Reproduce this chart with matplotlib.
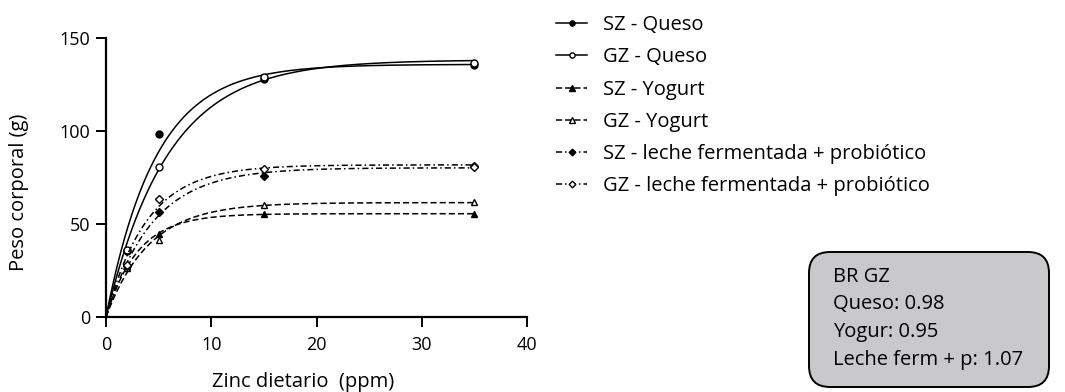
import numpy as np
import matplotlib
matplotlib.use("Agg")
import matplotlib.pyplot as plt
from matplotlib.lines import Line2D
from matplotlib.patches import FancyBboxPatch

plt.rcParams['font.family'] = ['Open Sans', 'DejaVu Sans']

zinc = [0, 2, 5, 15, 35]
series_names = ["SZ - Queso", "GZ - Queso", "SZ - Yogurt", "GZ - Yogurt",
                "SZ - leche fermentada + probiótico", "GZ - leche fermentada + probiótico"]
sz_queso = [0, 35.5, 98.3, 128.0, 135.6]
gz_queso = [0, 36.0, 80.9, 129.0, 136.5]
sz_yogurt = [0, 27.5, 44.5, 55.3, 55.6]
gz_yogurt = [0, 26.5, 41.4, 60.1, 61.9]
sz_leche = [0, 27.5, 56.5, 75.7, 81.3]
gz_leche = [0, 28.0, 63.7, 79.8, 80.9]

box_lines = ["BR GZ", "Queso: 0.98", "Yogur: 0.95", "Leche ferm + p: 1.07"]

all_series = [sz_queso, gz_queso, sz_yogurt, gz_yogurt, sz_leche, gz_leche]
markers = ['o', 'o', '^', '^', 'D', 'D']
fills = ['k', 'white', 'k', 'white', 'k', 'white']
styles = ['-', '-', (0, (4, 2)), (0, (4, 2)), (0, (4, 2, 1, 2)), (0, (4, 2, 1, 2))]
msizes = [5, 5, 5, 5, 4.5, 4.5]

W, H = 1065, 392
fig = plt.figure(figsize=(W / 100, H / 100), dpi=100)
ax = fig.add_axes([106 / W, 1 - 317 / H, (527 - 106) / W, (317 - 38) / H])


def fit_expo(x, y):
    x = np.asarray(x, float)
    y = np.asarray(y, float)
    best = None
    for k in np.linspace(0.01, 1.5, 3000):
        g = 1 - np.exp(-k * x)
        a = np.dot(g, y) / np.dot(g, g)
        err = np.sum((y - a * g) ** 2)
        if best is None or err < best[0]:
            best = (err, a, k)
    return best[1], best[2]


xs = np.linspace(0, 35, 400)
handles = []
for ys, m, fc, ls, ms, name in zip(all_series, markers, fills, styles, msizes, series_names):
    a, k = fit_expo(zinc, ys)
    ax.plot(xs, a * (1 - np.exp(-k * xs)), color='k', lw=1.1, ls=ls)
    ax.plot(zinc[1:], ys[1:], ls='none', marker=m, ms=ms, mfc=fc, mec='k', mew=1.0)
    handles.append(Line2D([], [], color='k', lw=1.1, ls=ls, marker=m, ms=ms * 0.75,
                          mfc=fc, mec='k', mew=1.0))

ax.set_xlim(0, 40)
ax.set_ylim(0, 150)
ax.set_xticks([0, 10, 20, 30, 40])
ax.set_yticks([0, 50, 100, 150])
for s in ['top', 'right']:
    ax.spines[s].set_visible(False)
for s in ['left', 'bottom']:
    ax.spines[s].set_linewidth(1.6)
ax.tick_params(direction='out', length=7, width=1.4, labelsize=13)
ax.tick_params(axis='x', pad=7)
ax.tick_params(axis='y', pad=4.5)
ax.set_xlabel("Zinc dietario  (ppm)", fontsize=14.5)
ax.set_ylabel("Peso corporal (g)", fontsize=14.5)
ax.xaxis.set_label_coords((303.5 - 106) / 421, -(372 - 317) / 279)
ax.yaxis.set_label_coords(-(106 - 29) / 421, (317 - 192) / 279)

leg = fig.legend(handles, series_names, loc='upper left',
                 bbox_to_anchor=(548 / W, 1 - 7 / H), frameon=False,
                 fontsize=14.5, handlelength=1.55, handletextpad=0.8,
                 labelspacing=0.61, borderaxespad=0)

# overlay axes in pixel units for the annotation box
ov = fig.add_axes([0, 0, 1, 1], zorder=-1)
ov.set_xlim(0, W)
ov.set_ylim(H, 0)
ov.axis('off')
box = FancyBboxPatch((809, 252), 1049 - 809, 387 - 252,
                     boxstyle="round,pad=0,rounding_size=21",
                     facecolor='#c9c9cc', edgecolor='k', lw=1.4)
ov.add_patch(box)
for i, line in enumerate(box_lines):
    ov.text(833, 281.7 + 27.7 * i, line, fontsize=14.5, va='baseline', ha='left')

fig.savefig("out.png", dpi=100)
